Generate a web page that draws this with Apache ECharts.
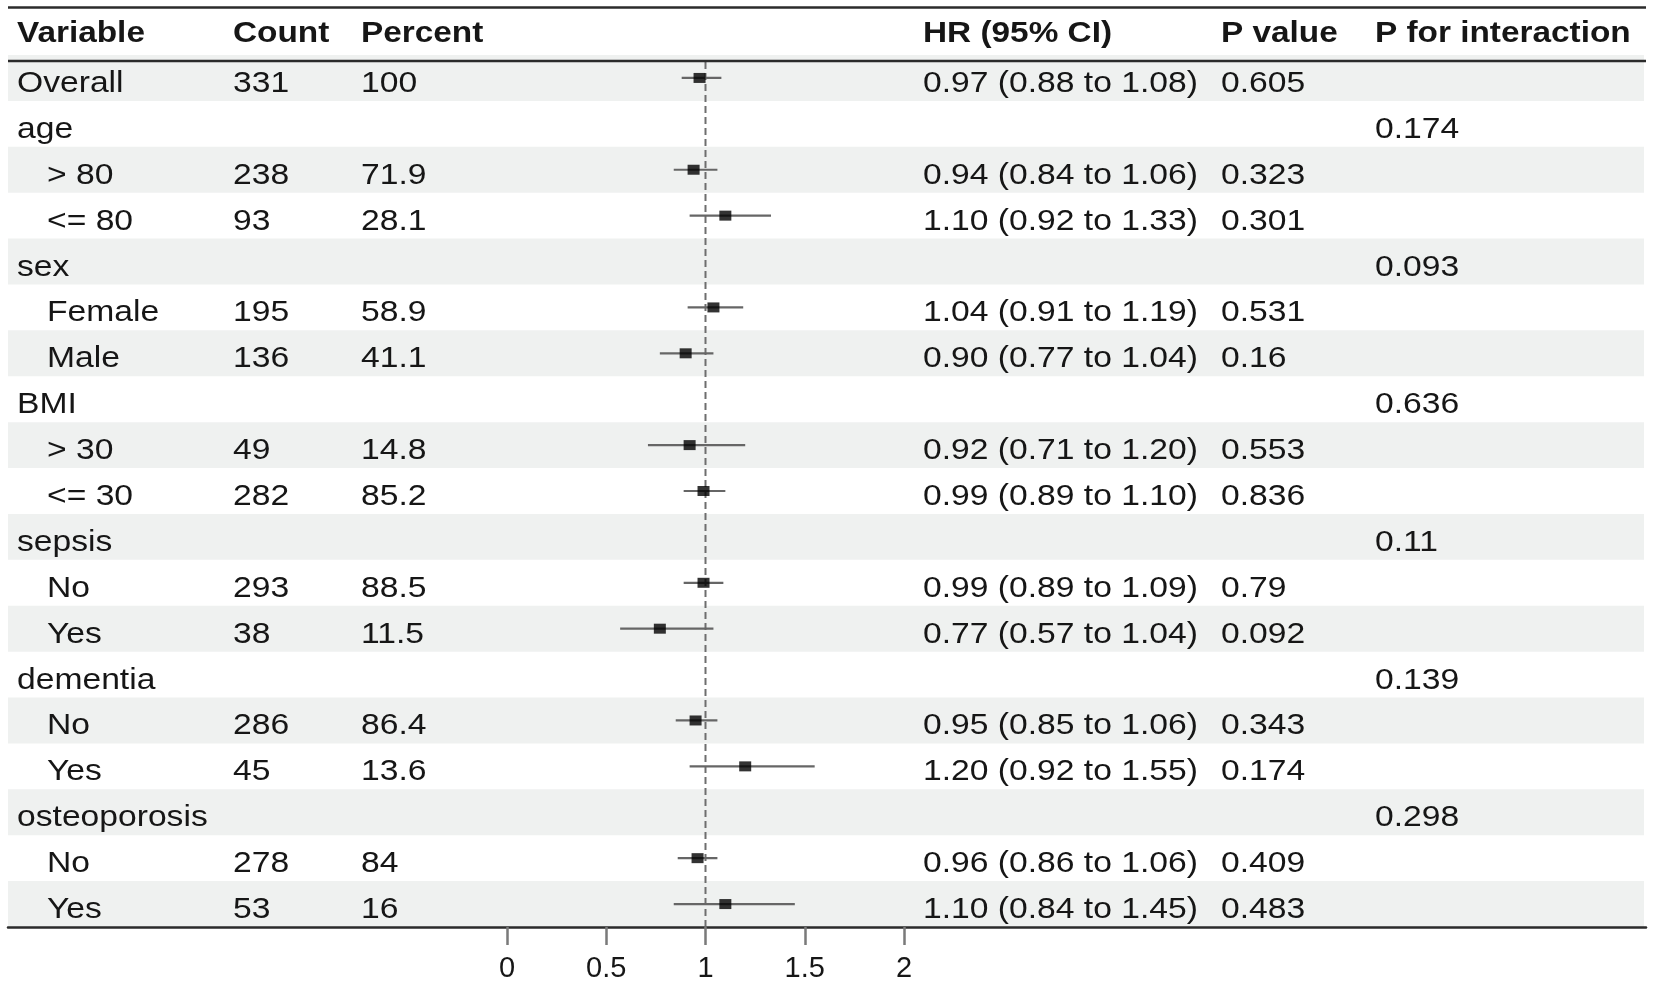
<!DOCTYPE html>
<html><head><meta charset="utf-8">
<script src="https://cdn.jsdelivr.net/npm/echarts@6/dist/echarts.min.js"></script>
<style>html,body{margin:0;padding:0;background:#fff}#c{width:1654px;height:987px}</style>
</head><body><div id="c"></div>
<script>
// ---- data ----
const variables = ['Overall','age','> 80','<= 80','sex','Female','Male','BMI','> 30','<= 30','sepsis','No','Yes','dementia','No','Yes','osteoporosis','No','Yes'];
const isSub     = [0,0,1,1,0,1,1,0,1,1,0,1,1,0,1,1,0,1,1];
const counts    = ['331','','238','93','','195','136','','49','282','','293','38','','286','45','','278','53'];
const percents  = ['100','','71.9','28.1','','58.9','41.1','','14.8','85.2','','88.5','11.5','','86.4','13.6','','84','16'];
const hr        = [0.97,null,0.94,1.10,null,1.04,0.90,null,0.92,0.99,null,0.99,0.77,null,0.95,1.20,null,0.96,1.10];
const ciLow     = [0.88,null,0.84,0.92,null,0.91,0.77,null,0.71,0.89,null,0.89,0.57,null,0.85,0.92,null,0.86,0.84];
const ciHigh    = [1.08,null,1.06,1.33,null,1.19,1.04,null,1.20,1.10,null,1.09,1.04,null,1.06,1.55,null,1.06,1.45];
const pValues   = ['0.605','','0.323','0.301','','0.531','0.16','','0.553','0.836','','0.79','0.092','','0.343','0.174','','0.409','0.483'];
const pInter    = ['','0.174','','','0.093','','','0.636','','','0.11','','','0.139','','','0.298','',''];
const headers   = ['Variable','Count','Percent','HR (95% CI)','P value','P for interaction'];
const xTicks    = [0, 0.5, 1, 1.5, 2];

// ---- layout ----
const FONT = '"Liberation Sans", Arial, Helvetica, sans-serif';
const SX = 1.16, FS = 29, TXT = '#161616';
const GRID_TOP = 55, GRID_H = 872;
const COLS = {variable: 9, sub: 39, count: 225, percent: 353, hr: 915, p: 1213, pint: 1367}; // offsets from table left (8)
const HEAD_X = [17, 233, 361, 923, 1221, 1375];

const rowIdx = variables.map((v, i) => String(i));
const fmt = v => v.toFixed(2);
const hrText = hr.map((h, i) => h == null ? '' : fmt(h) + ' (' + fmt(ciLow[i]) + ' to ' + fmt(ciHigh[i]) + ')');

function txt(x, y, s, bold, size, sx) {
  return {type: 'text', x: x, y: y, scaleX: sx || SX,
    style: {text: s, fill: TXT, font: (bold ? 'bold ' : '') + (size || FS) + 'px ' + FONT,
      textAlign: 'left', textVerticalAlign: 'middle', align: 'left', verticalAlign: 'middle'}};
}

const chart = echarts.init(document.getElementById('c'));
const option = {
  animation: false,
  backgroundColor: '#ffffff',
  grid: [
    {left: 8, top: GRID_TOP, width: 1638, height: GRID_H},
    {left: 507, top: GRID_TOP, width: 397, height: GRID_H}
  ],
  xAxis: [
    {gridIndex: 0, type: 'value', min: 0, max: 1638, position: 'bottom',
     axisLine: {show: true, onZero: false, lineStyle: {color: '#2b2b2b', width: 2.5}},
     axisTick: {show: false}, axisLabel: {show: false}, splitLine: {show: false}},
    {gridIndex: 1, type: 'value', min: 0, max: 2, interval: 0.5, position: 'bottom',
     axisLine: {show: false, onZero: false},
     axisTick: {show: true, length: 18, lineStyle: {color: '#7a7a7a', width: 2.5}},
     axisLabel: {show: true, fontSize: 29, color: TXT, fontFamily: FONT, margin: 27,
       formatter: v => xTicks.includes(v) ? String(v) : ''},
     splitLine: {show: false}}
  ],
  yAxis: [
    {gridIndex: 0, type: 'category', data: rowIdx, inverse: true, show: false, boundaryGap: true},
    {gridIndex: 1, type: 'category', data: rowIdx, inverse: true, show: false, boundaryGap: true}
  ],
  graphic: [
    {type: 'line', shape: {x1: 8, y1: 7.5, x2: 1646, y2: 7.5}, style: {stroke: '#2b2b2b', lineWidth: 2.5}, z: 20},
    {type: 'line', shape: {x1: 8, y1: 61, x2: 1646, y2: 61}, style: {stroke: '#2b2b2b', lineWidth: 2.5}, z: 20}
  ].concat(headers.map((h, k) => Object.assign(txt(HEAD_X[k], 34, h, true, 29, 1.15), {z: 20}))),
  series: [
    { // alternating row shading
      type: 'custom', xAxisIndex: 0, yAxisIndex: 0, z: 0, silent: true,
      data: variables.map((v, i) => [0, i]).filter(d => d[1] % 2 === 0),
      renderItem: (params, api) => {
        const i = api.value(1);
        const p0 = api.coord([0, i]), p1 = api.coord([1638, i]);
        const h = api.size([0, 1])[1];
        return {type: 'rect', shape: {x: p0[0], y: p0[1] - h / 2, width: p1[0] - p0[0] - 2, height: h},
          style: {fill: '#eff1f0'}};
      }
    },
    { // table text
      type: 'custom', xAxisIndex: 0, yAxisIndex: 0, z: 10, silent: true,
      data: variables.map((v, i) => [0, i]),
      renderItem: (params, api) => {
        const i = api.value(1);
        const p = api.coord([0, i]);
        const y = p[1] + 6, L = p[0];
        const kids = [txt(L + (isSub[i] ? COLS.sub : COLS.variable), y, variables[i])];
        if (counts[i]) kids.push(txt(L + COLS.count, y, counts[i]));
        if (percents[i]) kids.push(txt(L + COLS.percent, y, percents[i]));
        if (hrText[i]) kids.push(txt(L + COLS.hr, y, hrText[i]));
        if (pValues[i]) kids.push(txt(L + COLS.p, y, pValues[i]));
        if (pInter[i]) kids.push(txt(L + COLS.pint, y, pInter[i]));
        return {type: 'group', children: kids};
      }
    },
    { // reference line at HR = 1
      type: 'custom', xAxisIndex: 1, yAxisIndex: 1, z: 2, silent: true,
      data: [[1, 0]],
      renderItem: (params, api) => {
        const top = api.coord([api.value(0), 0]);
        const bot = api.coord([api.value(0), variables.length - 1]);
        const h = api.size([0, 1])[1];
        return {type: 'line', shape: {x1: top[0], y1: 62, x2: bot[0], y2: bot[1] + h / 2},
          style: {stroke: '#6e6e6e', lineWidth: 2, lineDash: [7, 4]}};
      }
    },
    { // confidence intervals
      type: 'custom', xAxisIndex: 1, yAxisIndex: 1, z: 3, silent: true,
      data: hr.map((h, i) => h == null ? null : [ciLow[i], ciHigh[i], i]).filter(Boolean),
      encode: {x: [0, 1], y: 2},
      renderItem: (params, api) => {
        const a = api.coord([api.value(0), api.value(2)]);
        const b = api.coord([api.value(1), api.value(2)]);
        return {type: 'line', shape: {x1: a[0], y1: a[1], x2: b[0], y2: b[1]},
          style: {stroke: '#666666', lineWidth: 2.2}};
      }
    },
    { // point estimates
      type: 'scatter', xAxisIndex: 1, yAxisIndex: 1, z: 4, silent: true,
      symbol: 'rect', symbolSize: [12, 10],
      itemStyle: {color: '#000000'},
      data: hr.map((h, i) => h == null ? null : [h, i]).filter(Boolean)
    }
  ]
};
chart.setOption(option);
</script>
</body></html>
